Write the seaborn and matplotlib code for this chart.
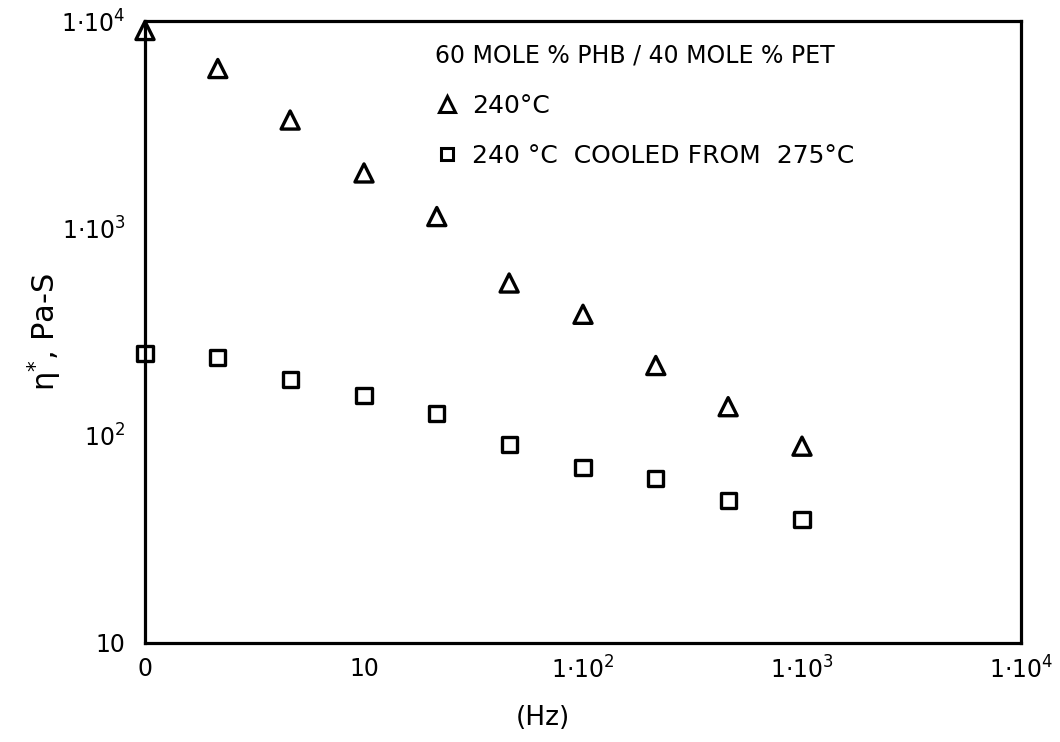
import numpy as np
import pandas as pd
import matplotlib
matplotlib.use("Agg")
import matplotlib.pyplot as plt
from matplotlib.lines import Line2D
from matplotlib.ticker import FixedLocator, NullLocator, FixedFormatter
import seaborn as sns

# Data (frequency in Hz, complex viscosity in Pa-s)
freq = [1, 2.15, 4.6, 10, 21.5, 46, 100, 215, 460, 1000]
eta_240 = [9000, 5900, 3330, 1850, 1140, 545, 385, 218, 138, 89]
eta_cooled = [250, 238, 187, 156, 128, 91, 70, 62, 48.5, 39.5]

x_ticks = [1, 10, 100, 1000, 10000]
x_ticklabels = ["0", "10", r"$1{\cdot}10^{2}$", r"$1{\cdot}10^{3}$", r"$1{\cdot}10^{4}$"]
y_ticks = [10, 100, 1000, 10000]
y_ticklabels = ["10", r"$10^{2}$", r"$1{\cdot}10^{3}$", r"$1{\cdot}10^{4}$"]

legend_title = "60 MOLE % PHB / 40 MOLE % PET"
label_240 = "240°C"
label_cooled = "240 °C  COOLED FROM  275°C"

sns.set_style("white")
plt.rcParams["font.family"] = ["DejaVu Sans"]
plt.rcParams["mathtext.default"] = "regular"
plt.rcParams["text.color"] = "black"

fig = plt.figure(figsize=(10.6, 7.42), dpi=100)
ax = fig.add_axes([145 / 1060, 1 - 643 / 742, (1021 - 145) / 1060, (643 - 21) / 742])

df1 = pd.DataFrame({"f": freq, "eta": eta_240})
df2 = pd.DataFrame({"f": freq, "eta": eta_cooled})

sns.scatterplot(data=df1, x="f", y="eta", marker="^", s=170, ax=ax, clip_on=False, zorder=5)
c1 = ax.collections[-1]
c1.set_facecolor("none"); c1.set_edgecolor("black"); c1.set_linewidth(2.4)
sns.scatterplot(data=df2, x="f", y="eta", marker="s", s=120, ax=ax, clip_on=False, zorder=5)
c2 = ax.collections[-1]
c2.set_facecolor("none"); c2.set_edgecolor("black"); c2.set_linewidth(2.4)

ax.set_xscale("log")
ax.set_yscale("log")
ax.set_xlim(1, 10000)
ax.set_ylim(10, 10000)

ax.xaxis.set_major_locator(FixedLocator(x_ticks))
ax.xaxis.set_major_formatter(FixedFormatter(x_ticklabels))
ax.yaxis.set_major_locator(FixedLocator(y_ticks))
ax.yaxis.set_major_formatter(FixedFormatter(y_ticklabels))
ax.xaxis.set_minor_locator(NullLocator())
ax.yaxis.set_minor_locator(NullLocator())

ax.tick_params(axis="both", which="major", direction="in", length=10, width=2,
               color="black", labelsize=17, labelcolor="black")
ax.tick_params(axis="x", pad=10)
ax.tick_params(axis="y", pad=14)

for sp in ax.spines.values():
    sp.set_visible(True)
    sp.set_color("black")
    sp.set_linewidth(2.3)

ax.set_xlabel("(Hz)", fontsize=19, color="black")
ax.xaxis.set_label_coords((543 - 145) / (1021 - 145), -0.1)
ax.set_ylabel(r"$\eta^{*}$, Pa-S", fontsize=22, color="black")
ax.yaxis.set_label_coords(-0.092, 0.5)

handles = [
    Line2D([], [], marker="^", linestyle="none", markersize=11, markerfacecolor="none",
           markeredgecolor="black", markeredgewidth=2.2),
    Line2D([], [], marker="s", linestyle="none", markersize=9, markerfacecolor="none",
           markeredgecolor="black", markeredgewidth=2.2),
]
leg = ax.legend(handles, [label_240, label_cooled], title=legend_title,
                loc="upper left", bbox_to_anchor=(0.305, 1.0), frameon=False,
                fontsize=18, title_fontsize=17, alignment="left",
                handletextpad=0.5, handlelength=1.0, labelspacing=1.05,
                labelcolor="black")
leg.get_title().set_color("black")

fig.savefig("out.png", dpi=100, facecolor="white")
